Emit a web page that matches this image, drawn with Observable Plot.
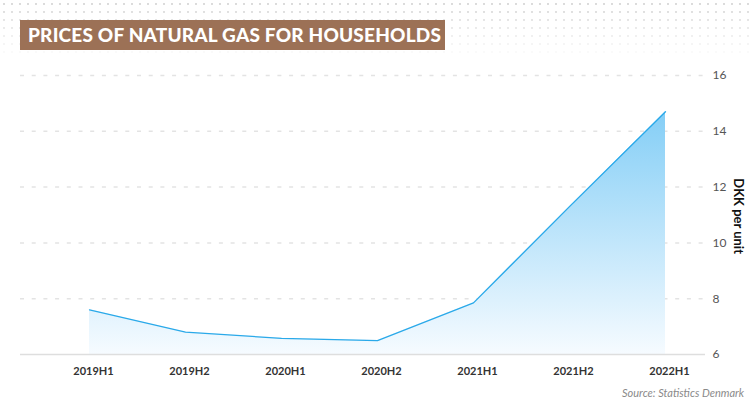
<!DOCTYPE html>
<html>
<head>
<meta charset="utf-8">
<script src="https://cdn.jsdelivr.net/npm/d3@7"></script>
<script src="https://cdn.jsdelivr.net/npm/@observablehq/plot@0.6"></script>
<style>
  html, body { margin: 0; padding: 0; background: #fff; }
  body { width: 750px; height: 411px; position: relative; overflow: hidden; font-family: Lato, "Open Sans", sans-serif; }
  #dots {
    position: absolute; left: 0; top: 0; width: 750px; height: 60px;
    background-image: radial-gradient(circle, #d9d9d9 0.9px, transparent 1.3px);
    background-size: 8px 8px;
    -webkit-mask-image: linear-gradient(to bottom, rgba(0,0,0,1), rgba(0,0,0,0));
    mask-image: linear-gradient(to bottom, rgba(0,0,0,1), rgba(0,0,0,0));
  }
  #title {
    position: absolute; left: 20px; top: 20px; height: 30px; width: 425px;
    background: #9c7156; color: #fff; box-sizing: border-box;
    font-family: Lato, sans-serif; font-weight: 900; font-size: 19px;
    line-height: 30px; padding-left: 8px; white-space: nowrap; letter-spacing: 0.2px;
  }
  #chart { position: absolute; left: 0; top: 60px; }
  #source {
    position: absolute; right: 6px; top: 386px;
    font-family: Lato, sans-serif; font-style: italic; font-size: 11px; color: #8a8a8a;
  }
</style>
</head>
<body>
<div id="dots"></div>
<div id="title">PRICES OF NATURAL GAS FOR HOUSEHOLDS</div>
<div id="chart"></div>
<div id="source">Source: Statistics Denmark</div>
<script>
const periods = ["2019H1", "2019H2", "2020H1", "2020H2", "2021H1", "2021H2", "2022H1"];
const prices = [7.6, 6.8, 6.58, 6.5, 7.85, 11.3, 14.7];
const yTicks = [6, 8, 10, 12, 14, 16];
const yLabel = "DKK per unit";

const data = periods.map((p, i) => ({period: p, price: prices[i]}));

const plot = Plot.plot({
  width: 750,
  height: 320,
  marginLeft: 20,
  marginRight: 45,
  marginTop: 15,
  marginBottom: 26,
  style: {fontFamily: "Lato, sans-serif", background: "transparent"},
  x: {type: "point", domain: periods, range: [87, 667], padding: 0, axis: null},
  y: {domain: [6, 16], axis: null},
  marks: [
    Plot.ruleY(yTicks.filter(d => d !== 6), {stroke: "#e3e3e3", strokeWidth: 1.5, strokeDasharray: "4,7.7"}),
    Plot.areaY(data, {x: "period", y1: 6, y2: "price", fill: "url(#gasGrad)"}),
    Plot.lineY(data, {x: "period", y: "price", stroke: "#2aa9e9", strokeWidth: 1.3}),
    Plot.ruleY([6], {stroke: "#dedede", strokeWidth: 1.5}),
    Plot.axisY(yTicks, {anchor: "right", tickSize: 0, tickPadding: 7, fontSize: 12, fill: "#555", label: null}),
    Plot.axisX(periods, {anchor: "bottom", tickSize: 0, tickPadding: 13, fontSize: 11, fontWeight: "bold", fill: "#333", dx: 4, label: null}),
    Plot.text([yLabel], {frameAnchor: "right", dx: 33, dy: 39, rotate: 90, fontSize: 13, fontWeight: "bold", fill: "#111"})
  ]
});

const defs = d3.select(plot).insert("defs", ":first-child");
const g = defs.append("linearGradient").attr("id", "gasGrad").attr("x1", 0).attr("y1", 0).attr("x2", 0).attr("y2", 1);
g.append("stop").attr("offset", "0%").attr("stop-color", "#84cef6");
g.append("stop").attr("offset", "100%").attr("stop-color", "#f6fbff");

document.getElementById("chart").appendChild(plot);
</script>
</body>
</html>
